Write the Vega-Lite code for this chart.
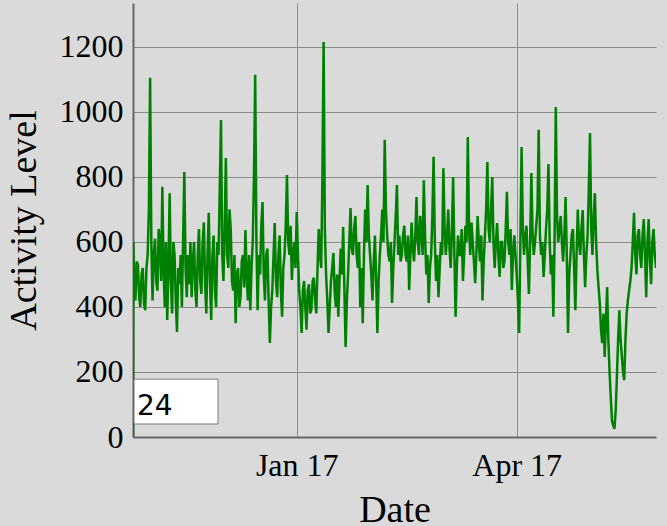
{
  "$schema": "https://vega.github.io/schema/vega-lite/v6.json",
  "width": 523,
  "height": 434,
  "autosize": "none",
  "padding": {"left": 133, "top": 3, "right": 11, "bottom": 89},
  "background": "#dadada",
  "config": {
    "view": {"stroke": null},
    "axis": {
      "labelFont": "Liberation Serif",
      "titleFont": "Liberation Serif",
      "labelFontSize": 32,
      "titleFontSize": 38,
      "titleFontWeight": "normal",
      "labelColor": "#000000",
      "titleColor": "#000000",
      "gridColor": "#8c8c8c",
      "gridWidth": 1,
      "domainColor": "#666666",
      "domainWidth": 2,
      "ticks": false
    }
  },
  "layer": [
    {
      "data": {"values": [
        {"d":"2016-10-26","v":0},{"d":"2016-10-26T04:00:00Z","v":600},{"d":"2016-10-26T12:00:00Z","v":480},
        {"d":"2016-10-27","v":420},{"d":"2016-10-27T12:00:00Z","v":540},{"d":"2016-10-28","v":530},{"d":"2016-10-28T12:00:00Z","v":430},
        {"d":"2016-10-29","v":400},{"d":"2016-10-29T12:00:00Z","v":500},{"d":"2016-10-30","v":520},{"d":"2016-10-30T12:00:00Z","v":410},
        {"d":"2016-10-31","v":390},{"d":"2016-10-31T12:00:00Z","v":520},
        {"d":"2016-11-01","v":560},{"d":"2016-11-01T12:00:00Z","v":700},{"d":"2016-11-02","v":1105},{"d":"2016-11-02T12:00:00Z","v":600},
        {"d":"2016-11-03","v":420},{"d":"2016-11-03T12:00:00Z","v":560},{"d":"2016-11-04","v":610},{"d":"2016-11-04T12:00:00Z","v":480},
        {"d":"2016-11-05","v":450},{"d":"2016-11-05T12:00:00Z","v":640},{"d":"2016-11-06","v":600},{"d":"2016-11-06T12:00:00Z","v":480},
        {"d":"2016-11-07","v":770},{"d":"2016-11-07T12:00:00Z","v":520},{"d":"2016-11-08","v":400},{"d":"2016-11-08T12:00:00Z","v":600},
        {"d":"2016-11-09","v":360},{"d":"2016-11-09T12:00:00Z","v":520},{"d":"2016-11-10","v":750},{"d":"2016-11-10T12:00:00Z","v":480},
        {"d":"2016-11-11","v":380},{"d":"2016-11-11T12:00:00Z","v":600},{"d":"2016-11-12","v":560},{"d":"2016-11-12T12:00:00Z","v":420},
        {"d":"2016-11-13","v":323},{"d":"2016-11-13T12:00:00Z","v":520},{"d":"2016-11-14","v":470},{"d":"2016-11-14T12:00:00Z","v":560},
        {"d":"2016-11-15","v":400},{"d":"2016-11-15T12:00:00Z","v":600},{"d":"2016-11-16","v":815},{"d":"2016-11-16T12:00:00Z","v":520},
        {"d":"2016-11-17","v":430},{"d":"2016-11-17T12:00:00Z","v":560},{"d":"2016-11-18","v":470},{"d":"2016-11-18T12:00:00Z","v":600},
        {"d":"2016-11-19","v":430},{"d":"2016-11-19T12:00:00Z","v":540},{"d":"2016-11-20","v":600},{"d":"2016-11-20T12:00:00Z","v":450},
        {"d":"2016-11-21","v":400},{"d":"2016-11-21T12:00:00Z","v":560},{"d":"2016-11-22","v":640},{"d":"2016-11-22T12:00:00Z","v":480},
        {"d":"2016-11-23","v":440},{"d":"2016-11-23T12:00:00Z","v":600},{"d":"2016-11-24","v":660},{"d":"2016-11-24T12:00:00Z","v":470},
        {"d":"2016-11-25","v":380},{"d":"2016-11-25T12:00:00Z","v":560},{"d":"2016-11-26","v":690},{"d":"2016-11-26T12:00:00Z","v":480},
        {"d":"2016-11-27","v":360},{"d":"2016-11-27T12:00:00Z","v":560},{"d":"2016-11-28","v":620},{"d":"2016-11-28T12:00:00Z","v":450},
        {"d":"2016-11-29","v":400},{"d":"2016-11-29T12:00:00Z","v":600},{"d":"2016-11-30","v":560},{"d":"2016-11-30T12:00:00Z","v":760},
        {"d":"2016-12-01","v":975},{"d":"2016-12-01T12:00:00Z","v":560},{"d":"2016-12-02","v":480},{"d":"2016-12-02T12:00:00Z","v":640},
        {"d":"2016-12-03","v":858},{"d":"2016-12-03T12:00:00Z","v":560},{"d":"2016-12-04","v":520},{"d":"2016-12-04T12:00:00Z","v":700},
        {"d":"2016-12-05","v":637},{"d":"2016-12-05T12:00:00Z","v":480},{"d":"2016-12-06","v":450},{"d":"2016-12-06T12:00:00Z","v":560},
        {"d":"2016-12-07","v":350},{"d":"2016-12-07T12:00:00Z","v":500},{"d":"2016-12-08","v":520},{"d":"2016-12-08T12:00:00Z","v":400},
        {"d":"2016-12-09","v":430},{"d":"2016-12-09T12:00:00Z","v":540},{"d":"2016-12-10","v":560},{"d":"2016-12-10T12:00:00Z","v":460},
        {"d":"2016-12-11","v":637},{"d":"2016-12-11T12:00:00Z","v":500},{"d":"2016-12-12","v":420},{"d":"2016-12-12T12:00:00Z","v":560},
        {"d":"2016-12-13","v":390},{"d":"2016-12-13T12:00:00Z","v":520},{"d":"2016-12-14","v":600},{"d":"2016-12-14T12:00:00Z","v":800},
        {"d":"2016-12-15","v":1114},{"d":"2016-12-15T12:00:00Z","v":600},{"d":"2016-12-16","v":390},{"d":"2016-12-16T12:00:00Z","v":560},
        {"d":"2016-12-17","v":500},{"d":"2016-12-17T12:00:00Z","v":650},{"d":"2016-12-18","v":723},{"d":"2016-12-18T12:00:00Z","v":500},
        {"d":"2016-12-19","v":420},{"d":"2016-12-19T12:00:00Z","v":560},{"d":"2016-12-20","v":580},{"d":"2016-12-20T12:00:00Z","v":420},
        {"d":"2016-12-21","v":289},{"d":"2016-12-21T12:00:00Z","v":400},{"d":"2016-12-22","v":450},{"d":"2016-12-22T12:00:00Z","v":560},
        {"d":"2016-12-23","v":658},{"d":"2016-12-23T12:00:00Z","v":480},{"d":"2016-12-24","v":430},{"d":"2016-12-24T12:00:00Z","v":560},
        {"d":"2016-12-25","v":620},{"d":"2016-12-25T12:00:00Z","v":450},{"d":"2016-12-26","v":370},{"d":"2016-12-26T12:00:00Z","v":520},
        {"d":"2016-12-27","v":560},{"d":"2016-12-27T12:00:00Z","v":650},{"d":"2016-12-28","v":806},{"d":"2016-12-28T12:00:00Z","v":600},
        {"d":"2016-12-29","v":560},{"d":"2016-12-29T12:00:00Z","v":650},{"d":"2016-12-30","v":483},{"d":"2016-12-30T12:00:00Z","v":560},
        {"d":"2016-12-31","v":600},{"d":"2016-12-31T12:00:00Z","v":520},
        {"d":"2017-01-01","v":692},{"d":"2017-01-01T12:00:00Z","v":560},{"d":"2017-01-02","v":450},{"d":"2017-01-02T12:00:00Z","v":400},
        {"d":"2017-01-03","v":320},{"d":"2017-01-03T12:00:00Z","v":450},{"d":"2017-01-04","v":480},{"d":"2017-01-04T12:00:00Z","v":400},
        {"d":"2017-01-05","v":330},{"d":"2017-01-05T12:00:00Z","v":450},{"d":"2017-01-06","v":470},{"d":"2017-01-06T12:00:00Z","v":380},
        {"d":"2017-01-07","v":392},{"d":"2017-01-07T12:00:00Z","v":480},{"d":"2017-01-08","v":490},{"d":"2017-01-08T12:00:00Z","v":420},
        {"d":"2017-01-09","v":380},{"d":"2017-01-09T12:00:00Z","v":520},{"d":"2017-01-10","v":640},{"d":"2017-01-10T12:00:00Z","v":560},
        {"d":"2017-01-11","v":520},{"d":"2017-01-11T12:00:00Z","v":800},{"d":"2017-01-12","v":1215},{"d":"2017-01-12T12:00:00Z","v":640},
        {"d":"2017-01-13","v":500},{"d":"2017-01-13T12:00:00Z","v":420},{"d":"2017-01-14","v":320},{"d":"2017-01-14T12:00:00Z","v":400},
        {"d":"2017-01-15","v":480},{"d":"2017-01-15T12:00:00Z","v":520},{"d":"2017-01-16","v":566},{"d":"2017-01-16T12:00:00Z","v":450},
        {"d":"2017-01-17","v":400},{"d":"2017-01-17T12:00:00Z","v":500},{"d":"2017-01-18","v":370},{"d":"2017-01-18T12:00:00Z","v":480},
        {"d":"2017-01-19","v":580},{"d":"2017-01-19T12:00:00Z","v":500},{"d":"2017-01-20","v":646},{"d":"2017-01-20T12:00:00Z","v":450},
        {"d":"2017-01-21","v":277},{"d":"2017-01-21T12:00:00Z","v":420},{"d":"2017-01-22","v":500},{"d":"2017-01-22T12:00:00Z","v":600},
        {"d":"2017-01-23","v":704},{"d":"2017-01-23T12:00:00Z","v":580},{"d":"2017-01-24","v":560},{"d":"2017-01-24T12:00:00Z","v":640},
        {"d":"2017-01-25","v":680},{"d":"2017-01-25T12:00:00Z","v":560},{"d":"2017-01-26","v":520},{"d":"2017-01-26T12:00:00Z","v":600},
        {"d":"2017-01-27","v":400},{"d":"2017-01-27T12:00:00Z","v":520},{"d":"2017-01-28","v":350},{"d":"2017-01-28T12:00:00Z","v":560},
        {"d":"2017-01-29","v":700},{"d":"2017-01-29T12:00:00Z","v":600},{"d":"2017-01-30","v":775},{"d":"2017-01-30T12:00:00Z","v":620},
        {"d":"2017-01-31","v":560},{"d":"2017-01-31T12:00:00Z","v":500},
        {"d":"2017-02-01","v":420},{"d":"2017-02-01T12:00:00Z","v":540},{"d":"2017-02-02","v":620},{"d":"2017-02-02T12:00:00Z","v":480},
        {"d":"2017-02-03","v":320},{"d":"2017-02-03T12:00:00Z","v":480},{"d":"2017-02-04","v":560},{"d":"2017-02-04T12:00:00Z","v":620},
        {"d":"2017-02-05","v":700},{"d":"2017-02-05T12:00:00Z","v":600},{"d":"2017-02-06","v":914},{"d":"2017-02-06T12:00:00Z","v":700},
        {"d":"2017-02-07","v":620},{"d":"2017-02-07T12:00:00Z","v":560},{"d":"2017-02-08","v":540},{"d":"2017-02-08T12:00:00Z","v":600},
        {"d":"2017-02-09","v":412},{"d":"2017-02-09T12:00:00Z","v":520},{"d":"2017-02-10","v":600},{"d":"2017-02-10T12:00:00Z","v":680},
        {"d":"2017-02-11","v":775},{"d":"2017-02-11T12:00:00Z","v":560},{"d":"2017-02-12","v":620},{"d":"2017-02-12T12:00:00Z","v":540},
        {"d":"2017-02-13","v":560},{"d":"2017-02-13T12:00:00Z","v":620},{"d":"2017-02-14","v":650},{"d":"2017-02-14T12:00:00Z","v":560},
        {"d":"2017-02-15","v":540},{"d":"2017-02-15T12:00:00Z","v":620},{"d":"2017-02-16","v":452},{"d":"2017-02-16T12:00:00Z","v":560},
        {"d":"2017-02-17","v":660},{"d":"2017-02-17T12:00:00Z","v":580},{"d":"2017-02-18","v":540},{"d":"2017-02-18T12:00:00Z","v":620},
        {"d":"2017-02-19","v":738},{"d":"2017-02-19T12:00:00Z","v":600},{"d":"2017-02-20","v":560},{"d":"2017-02-20T12:00:00Z","v":680},
        {"d":"2017-02-21","v":640},{"d":"2017-02-21T12:00:00Z","v":560},{"d":"2017-02-22","v":790},{"d":"2017-02-22T12:00:00Z","v":620},
        {"d":"2017-02-23","v":500},{"d":"2017-02-23T12:00:00Z","v":560},{"d":"2017-02-24","v":412},{"d":"2017-02-24T12:00:00Z","v":520},
        {"d":"2017-02-25","v":560},{"d":"2017-02-25T12:00:00Z","v":680},{"d":"2017-02-26","v":862},{"d":"2017-02-26T12:00:00Z","v":600},
        {"d":"2017-02-27","v":480},{"d":"2017-02-27T12:00:00Z","v":560},{"d":"2017-02-28","v":430},{"d":"2017-02-28T12:00:00Z","v":520},
        {"d":"2017-03-01","v":600},{"d":"2017-03-01T12:00:00Z","v":560},{"d":"2017-03-02","v":827},{"d":"2017-03-02T12:00:00Z","v":640},
        {"d":"2017-03-03","v":560},{"d":"2017-03-03T12:00:00Z","v":620},{"d":"2017-03-04","v":700},{"d":"2017-03-04T12:00:00Z","v":580},
        {"d":"2017-03-05","v":520},{"d":"2017-03-05T12:00:00Z","v":640},{"d":"2017-03-06","v":800},{"d":"2017-03-06T12:00:00Z","v":560},
        {"d":"2017-03-07","v":370},{"d":"2017-03-07T12:00:00Z","v":520},{"d":"2017-03-08","v":620},{"d":"2017-03-08T12:00:00Z","v":560},
        {"d":"2017-03-09","v":560},{"d":"2017-03-09T12:00:00Z","v":640},{"d":"2017-03-10","v":480},{"d":"2017-03-10T12:00:00Z","v":560},
        {"d":"2017-03-11","v":650},{"d":"2017-03-11T12:00:00Z","v":600},{"d":"2017-03-12","v":923},{"d":"2017-03-12T12:00:00Z","v":640},
        {"d":"2017-03-13","v":560},{"d":"2017-03-13T12:00:00Z","v":660},{"d":"2017-03-14","v":600},{"d":"2017-03-14T12:00:00Z","v":540},
        {"d":"2017-03-15","v":473},{"d":"2017-03-15T12:00:00Z","v":560},{"d":"2017-03-16","v":680},{"d":"2017-03-16T12:00:00Z","v":600},
        {"d":"2017-03-17","v":540},{"d":"2017-03-17T12:00:00Z","v":620},{"d":"2017-03-18","v":420},{"d":"2017-03-18T12:00:00Z","v":540},
        {"d":"2017-03-19","v":620},{"d":"2017-03-19T12:00:00Z","v":700},{"d":"2017-03-20","v":846},{"d":"2017-03-20T12:00:00Z","v":640},
        {"d":"2017-03-21","v":600},{"d":"2017-03-21T12:00:00Z","v":700},{"d":"2017-03-22","v":800},{"d":"2017-03-22T12:00:00Z","v":600},
        {"d":"2017-03-23","v":520},{"d":"2017-03-23T12:00:00Z","v":600},{"d":"2017-03-24","v":658},{"d":"2017-03-24T12:00:00Z","v":560},
        {"d":"2017-03-25","v":492},{"d":"2017-03-25T12:00:00Z","v":600},{"d":"2017-03-26","v":600},{"d":"2017-03-26T12:00:00Z","v":520},
        {"d":"2017-03-27","v":540},{"d":"2017-03-27T12:00:00Z","v":640},{"d":"2017-03-28","v":754},{"d":"2017-03-28T12:00:00Z","v":600},
        {"d":"2017-03-29","v":560},{"d":"2017-03-29T12:00:00Z","v":640},{"d":"2017-03-30","v":452},{"d":"2017-03-30T12:00:00Z","v":560},
        {"d":"2017-03-31","v":620},{"d":"2017-03-31T12:00:00Z","v":560},
        {"d":"2017-04-01","v":500},{"d":"2017-04-01T12:00:00Z","v":420},{"d":"2017-04-02","v":320},{"d":"2017-04-02T12:00:00Z","v":600},
        {"d":"2017-04-03","v":892},{"d":"2017-04-03T12:00:00Z","v":640},{"d":"2017-04-04","v":560},{"d":"2017-04-04T12:00:00Z","v":620},
        {"d":"2017-04-05","v":650},{"d":"2017-04-05T12:00:00Z","v":540},{"d":"2017-04-06","v":440},{"d":"2017-04-06T12:00:00Z","v":600},
        {"d":"2017-04-07","v":812},{"d":"2017-04-07T12:00:00Z","v":620},{"d":"2017-04-08","v":560},{"d":"2017-04-08T12:00:00Z","v":600},
        {"d":"2017-04-09","v":650},{"d":"2017-04-09T12:00:00Z","v":700},{"d":"2017-04-10","v":945},{"d":"2017-04-10T12:00:00Z","v":620},
        {"d":"2017-04-11","v":560},{"d":"2017-04-11T12:00:00Z","v":600},{"d":"2017-04-12","v":492},{"d":"2017-04-12T12:00:00Z","v":560},
        {"d":"2017-04-13","v":640},{"d":"2017-04-13T12:00:00Z","v":700},{"d":"2017-04-14","v":840},{"d":"2017-04-14T12:00:00Z","v":600},
        {"d":"2017-04-15","v":500},{"d":"2017-04-15T12:00:00Z","v":560},{"d":"2017-04-16","v":370},{"d":"2017-04-16T12:00:00Z","v":600},
        {"d":"2017-04-17","v":1015},{"d":"2017-04-17T12:00:00Z","v":680},{"d":"2017-04-18","v":600},{"d":"2017-04-18T12:00:00Z","v":640},
        {"d":"2017-04-19","v":680},{"d":"2017-04-19T12:00:00Z","v":600},{"d":"2017-04-20","v":540},{"d":"2017-04-20T12:00:00Z","v":620},
        {"d":"2017-04-21","v":738},{"d":"2017-04-21T12:00:00Z","v":560},{"d":"2017-04-22","v":320},{"d":"2017-04-22T12:00:00Z","v":500},
        {"d":"2017-04-23","v":560},{"d":"2017-04-23T12:00:00Z","v":620},{"d":"2017-04-24","v":640},{"d":"2017-04-24T12:00:00Z","v":520},
        {"d":"2017-04-25","v":390},{"d":"2017-04-25T12:00:00Z","v":560},{"d":"2017-04-26","v":700},{"d":"2017-04-26T12:00:00Z","v":600},
        {"d":"2017-04-27","v":560},{"d":"2017-04-27T12:00:00Z","v":640},{"d":"2017-04-28","v":698},{"d":"2017-04-28T12:00:00Z","v":560},
        {"d":"2017-04-29","v":461},{"d":"2017-04-29T12:00:00Z","v":560},{"d":"2017-04-30","v":620},{"d":"2017-04-30T12:00:00Z","v":760},
        {"d":"2017-05-01","v":935},{"d":"2017-05-01T12:00:00Z","v":640},{"d":"2017-05-02","v":560},{"d":"2017-05-02T12:00:00Z","v":680},
        {"d":"2017-05-03","v":750},{"d":"2017-05-03T12:00:00Z","v":600},{"d":"2017-05-04","v":514},{"d":"2017-05-04T12:00:00Z","v":460},
        {"d":"2017-05-05","v":412},{"d":"2017-05-05T12:00:00Z","v":330},{"d":"2017-05-06","v":289},{"d":"2017-05-06T12:00:00Z","v":380},
        {"d":"2017-05-07","v":246},{"d":"2017-05-07T12:00:00Z","v":350},{"d":"2017-05-08","v":461},{"d":"2017-05-08T12:00:00Z","v":300},
        {"d":"2017-05-09","v":200},{"d":"2017-05-09T12:00:00Z","v":120},{"d":"2017-05-10","v":50},{"d":"2017-05-10T12:00:00Z","v":35},
        {"d":"2017-05-11","v":25},{"d":"2017-05-11T12:00:00Z","v":80},{"d":"2017-05-12","v":185},{"d":"2017-05-12T12:00:00Z","v":300},
        {"d":"2017-05-13","v":390},{"d":"2017-05-13T12:00:00Z","v":300},{"d":"2017-05-14","v":250},{"d":"2017-05-14T12:00:00Z","v":200},
        {"d":"2017-05-15","v":175},{"d":"2017-05-15T12:00:00Z","v":300},{"d":"2017-05-16","v":380},{"d":"2017-05-16T12:00:00Z","v":420},
        {"d":"2017-05-17","v":452},{"d":"2017-05-17T12:00:00Z","v":480},{"d":"2017-05-18","v":520},{"d":"2017-05-18T12:00:00Z","v":600},
        {"d":"2017-05-19","v":690},{"d":"2017-05-19T12:00:00Z","v":560},{"d":"2017-05-20","v":500},{"d":"2017-05-20T12:00:00Z","v":620},
        {"d":"2017-05-21","v":640},{"d":"2017-05-21T12:00:00Z","v":560},{"d":"2017-05-22","v":520},{"d":"2017-05-22T12:00:00Z","v":620},
        {"d":"2017-05-23","v":670},{"d":"2017-05-23T12:00:00Z","v":560},{"d":"2017-05-24","v":430},{"d":"2017-05-24T12:00:00Z","v":600},
        {"d":"2017-05-25","v":670},{"d":"2017-05-25T12:00:00Z","v":540},{"d":"2017-05-26","v":470},{"d":"2017-05-26T12:00:00Z","v":600},
        {"d":"2017-05-27","v":640},{"d":"2017-05-27T12:00:00Z","v":560},{"d":"2017-05-28","v":520}
      ]},
      "mark": {"type": "line", "color": "#008000", "strokeWidth": 2.5, "clip": true},
      "encoding": {
        "x": {
          "field": "d", "type": "temporal", "title": "Date",
          "scale": {"type": "utc", "domain": [{"year": 2016, "month": 10, "date": 26, "utc": true}, {"year": 2017, "month": 5, "date": 28, "utc": true}]},
          "axis": {
            "values": [{"year": 2017, "month": 1, "date": 1, "utc": true}, {"year": 2017, "month": 4, "date": 1, "utc": true}],
            "format": "%b %y", "labelPadding": 13, "titlePadding": 10, "labelFlush": false
          }
        },
        "y": {
          "field": "v", "type": "quantitative", "title": "Activity Level",
          "scale": {"domain": [0, 1335], "nice": false, "zero": true},
          "axis": {"values": [0, 200, 400, 600, 800, 1000, 1200], "format": "d", "labelPadding": 10, "titlePadding": 16, "labelFlush": false}
        }
      }
    },
    {
      "data": {"values": [{"x1": "2016-10-26T10:00:00Z", "x2": "2016-11-29T19:00:00Z", "y1": 40, "y2": 178}]},
      "mark": {"type": "rect", "fill": "#ffffff", "stroke": "#7a7a7a", "strokeWidth": 1},
      "encoding": {
        "x": {"field": "x1", "type": "temporal", "title": "Date"},
        "x2": {"field": "x2"},
        "y": {"field": "y1", "type": "quantitative", "title": "Activity Level"},
        "y2": {"field": "y2"}
      }
    },
    {
      "data": {"values": [{"x": "2016-10-27T15:00:00Z", "y": 68, "label": "24"}]},
      "mark": {"type": "text", "font": "DejaVu Sans", "fontSize": 28, "align": "left", "baseline": "alphabetic", "color": "#000000"},
      "encoding": {
        "x": {"field": "x", "type": "temporal", "title": "Date"},
        "y": {"field": "y", "type": "quantitative", "title": "Activity Level"},
        "text": {"field": "label"}
      }
    }
  ]
}
